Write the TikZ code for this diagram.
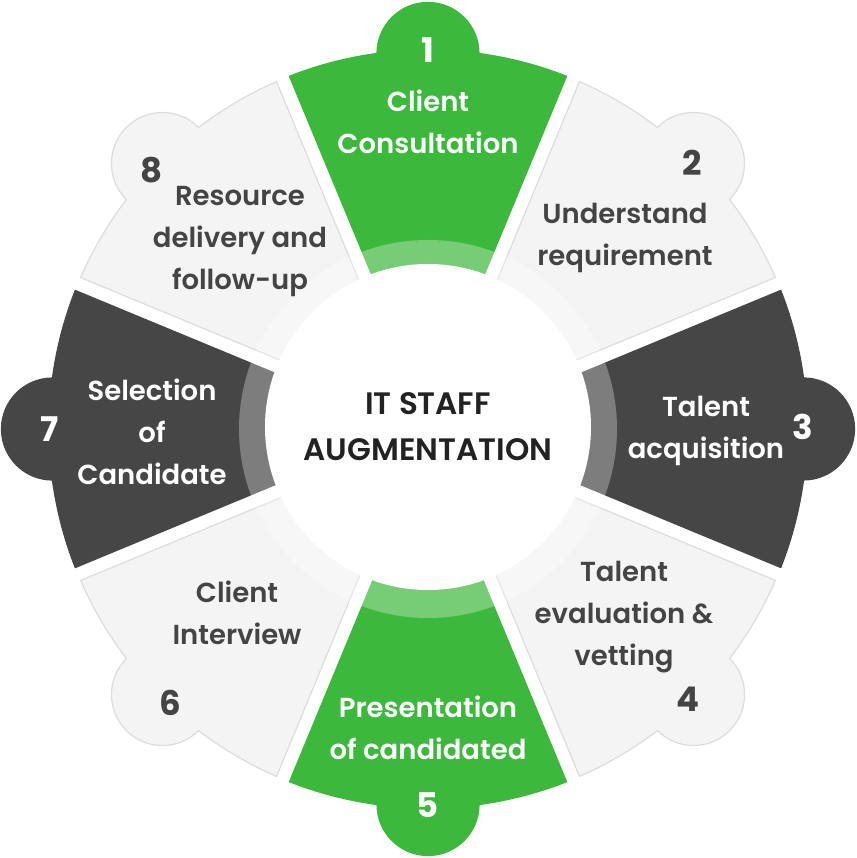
\documentclass[tikz,border=0pt]{standalone}
\usepackage{fontspec}
\setmainfont{Poppins}[BoldFont={Poppins SemiBold}]
\newfontfamily\numfont{Poppins Bold}

\definecolor{stepgreen}{HTML}{3CB83C}
\definecolor{stepdark}{HTML}{464646}
\definecolor{steplight}{HTML}{F4F4F4}
\definecolor{stepline}{HTML}{DCDCDC}
\definecolor{stepink}{HTML}{444444}
\definecolor{hubink}{HTML}{222222}

\tikzset{
  steptext/.style={align=center, font=\bfseries\fontsize{27.5}{42}\selectfont},
  stepnum/.style={font=\numfont\fontsize{34}{34}\selectfont},
  hubtext/.style={align=center, text=hubink, font=\bfseries\fontsize{31}{46}\selectfont},
}

\begin{document}
\begin{tikzpicture}[x=1pt, y=1pt]
        \useasboundingbox (-428,-429) rectangle (428,429);

        % Wedges with their round tabs
        \foreach \a/\col/\rim in {90/stepgreen/stepgreen, 45/steplight/stepline,
                0/stepdark/stepdark, -45/steplight/stepline, -90/stepgreen/stepgreen,
                -135/steplight/stepline, 180/stepdark/stepdark, 135/steplight/stepline}
        {
            \draw[fill=\col, draw=\rim, line width=1.2pt, line join=round]
                ({\a-19.825}:150) -- ({\a-21.44}:379)
                arc[start angle={\a-21.44}, end angle={\a-7.73}, radius=379]
                arc[start angle={\a-90}, end angle={\a+90}, radius=51]
                arc[start angle={\a+7.73}, end angle={\a+21.44}, radius=379]
                -- ({\a+19.825}:150)
                arc[start angle={\a+19.825}, end angle={\a-19.825}, radius=150]
                -- cycle;
        }

        % Pale band round the hub
        \fill[white, opacity=0.3] (0,0) circle (189);

        % Hub
        \node[circle, fill=white, minimum size=326pt, inner sep=0pt, hubtext] (hub) at (0,2) {IT STAFF\\AUGMENTATION};

        % Step numbers
        \node[stepnum, text=white]   (n1) at (0,379)     {1};
        \node[stepnum, text=stepink] (n2) at (264,266)   {2};
        \node[stepnum, text=white]   (n3) at (375,2)     {3};
        \node[stepnum, text=stepink] (n4) at (260,-270)  {4};
        \node[stepnum, text=white]   (n5) at (0,-376)    {5};
        \node[stepnum, text=stepink] (n6) at (-258,-274) {6};
        \node[stepnum, text=white]   (n7) at (-378,0)    {7};
        \node[stepnum, text=stepink] (n8) at (-276,259)  {8};

        % Step labels
        \node[steptext, text=white]   (t1) at (0,307.5)     {Client\\Consultation};
        \node[steptext, text=stepink] (t2) at (197,191.5)   {Understand\\requirement};
        \node[steptext, text=white]   (t3) at (278,-1.5)    {Talent\\acquisition};
        \node[steptext, text=stepink] (t4) at (196,-188)    {Talent\\evaluation \&\\vetting};
        \node[steptext, text=white]   (t5) at (0,-298.5)    {Presentation\\of candidated};
        \node[steptext, text=stepink] (t6) at (-191,-183.5) {Client\\Interview};
        \node[steptext, text=white]   (t7) at (-276,-3)     {Selection\\of\\Candidate};
        \node[steptext, text=stepink] (t8) at (-188,187)    {Resource\\delivery and\\follow-up};
\end{tikzpicture}
\end{document}
